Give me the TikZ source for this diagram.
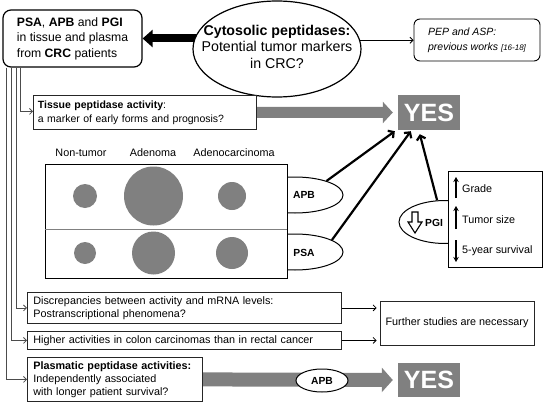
\documentclass[tikz,border=0pt]{standalone}
\usepackage{fontspec}
\setmainfont{Liberation Sans}
\usetikzlibrary{shapes.geometric,arrows.meta}
\pgfdeclarelayer{background}
\pgfsetlayers{background,main}
\definecolor{ygray}{RGB}{128,128,128}
\begin{document}
\begin{tikzpicture}[x=1pt,y=-1pt,
  txt/.style={font=\fontsize{10.8}{13}\selectfont},
  tbox/.style={draw=black!85, line width=0.8pt, fill=white, inner ysep=0pt, align=left, txt},
  thinarr/.style={line width=0.8pt, -{Straight Barb[length=3pt,width=6pt]}},
  leftln/.style={draw=black!70, line width=0.8pt, -{Straight Barb[length=3pt,width=6pt]}},
  yesarr/.style={line width=2.2pt, -{Straight Barb[length=4pt,width=9pt]}},
  yesbox/.style={fill=ygray, text=white, font=\fontsize{25}{25}\selectfont\bfseries, minimum width=62pt, minimum height=35pt, inner sep=0},
  circ/.style={circle, fill=ygray, inner sep=0},
  ell/.style={ellipse, draw, fill=white, line width=1pt, inner sep=0},
  smallbold/.style={font=\fontsize{10.3}{12}\selectfont\bfseries, inner sep=0},
  updown/.style={line width=1.1pt, -{Stealth[length=5pt,width=5.5pt]}}
]
\useasboundingbox (0,0) rectangle (545,404);

% ---------- top row ----------
\node[draw, line width=1.2pt, rounded corners=8pt, fill=white, minimum width=139pt, minimum height=57pt,
      inner sep=0, align=left, font=\fontsize{12.2}{15.5}\selectfont] (tl) at (72.5,38.5)
  {\textbf{PSA}, \textbf{APB} and \textbf{PGI}\\in tissue and plasma\\from \textbf{CRC} patients};
\node[ell, line width=1.2pt, minimum width=168pt, minimum height=96pt] (cyt) at (277,49) {};
\node[align=center, font=\fontsize{14.2}{16.5}\selectfont, inner sep=0] (cytt) at (277,46.5)
  {\textbf{Cytosolic peptidases:}\\Potential tumor markers\\in CRC?};
\node[draw, line width=0.9pt, rounded corners=6pt, minimum width=126pt, minimum height=42pt, inner sep=0,
      align=left, font=\fontsize{10.5}{15}\selectfont\itshape] (pep) at (477,40)
  {PEP and ASP:\\previous works {\fontsize{8}{10}\selectfont[16-18]}};
\draw[thinarr] (cyt.6) -- (cyt.6 -| pep.west);

% ---------- tissue ----------
\node[tbox, anchor=north west, text width=214pt, inner xsep=4.5pt, minimum height=34pt,
      font=\fontsize{10.5}{14}\selectfont] (tis) at (33,95)
  {\textbf{Tissue peptidase activity}:\\a marker of early forms and prognosis?};
\node[yesbox] (yes1) at (429,112.5) {YES};

% ---------- table ----------
\node[ell, minimum width=96pt, minimum height=36pt] (apb) at (295,195) {};
\node[ell, minimum width=96pt, minimum height=36pt] (psa) at (295,252) {};
\node[draw, fill=white, line width=0.9pt, minimum width=242pt, minimum height=114pt, inner sep=0] (tab) at (166,221) {};
\coordinate (mid) at (166,229);
\draw[ygray, line width=0.7pt] (tab.west |- mid) -- (tab.east |- mid);
\node[smallbold] (apbt) at (304,195) {APB};
\node[smallbold] (psat) at (304,253) {PSA};

\node[txt, inner sep=0] (l1) at (81,153) {Non-tumor};
\node[txt, inner sep=0] (l2) at (153,153) {Adenoma};
\node[txt, inner sep=0] (l3) at (234,153) {Adenocarcinoma};

\node[circ, minimum size=24pt] (c11) at (85,196) {};
\node[circ, minimum size=59pt] (c12) at (153.5,196) {};
\node[circ, minimum size=28pt] (c13) at (232,196) {};
\node[circ, minimum size=22pt] (c21) at (85,253) {};
\node[circ, minimum size=43pt] (c22) at (153.5,253) {};
\node[circ, minimum size=32pt] (c23) at (232,253) {};

% ---------- PGI ----------
\node[ell, minimum width=92pt, minimum height=43pt] (pgi) at (445,222) {};
\node[smallbold] (pgit) at (434,222.5) {PGI};
\draw[line width=1.1pt, line join=miter] (412,212) -- (418,212) -- (418,222) -- (422,222) -- (415,233)
  -- (408,222) -- (412,222) -- cycle;
\node[draw, fill=white, line width=0.9pt, minimum width=94pt, minimum height=96pt, inner sep=0] (rb) at (495,219) {};
\node[txt, anchor=west, inner sep=0] (g1) at (462,189) {Grade};
\node[txt, anchor=west, inner sep=0] (g2) at (462,220) {Tumor size};
\node[txt, anchor=west, inner sep=0] (g3) at (462,250.5) {5-year survival};
\draw[updown] (456,198) -- (456,177);
\draw[updown] (456,229) -- (456,206);
\draw[updown] (456,240) -- (456,262);

% arrows to YES
\draw[yesarr] (apb.24) -- ([xshift=-3pt,yshift=-1pt]yes1.south west);
\draw[yesarr] (psa.18) -- ([xshift=13pt,yshift=-1pt]yes1.south west);
\draw[yesarr] (pgi.110) -- ([xshift=22pt,yshift=-4pt]yes1.south west);

% ---------- bottom ----------
\node[tbox, anchor=north west, text width=302pt, inner xsep=6pt, minimum height=31pt] (dis) at (27,292)
  {Discrepancies between activity and mRNA levels:\\Postranscriptional phenomena?};
\node[tbox, anchor=north west, text width=302pt, inner xsep=6pt, minimum height=18pt] (hig) at (27,331)
  {Higher activities in colon carcinomas than in rectal cancer};
\node[tbox, anchor=north west, text width=163pt, inner xsep=6pt, minimum height=44pt] (plas) at (27,357)
  {\textbf{Plasmatic peptidase activities:}\\Independently associated\\with longer patient survival?};
\node[tbox, align=center, minimum width=154pt, minimum height=44pt, inner xsep=0] (fur) at (457,323)
  {Further studies are necessary};
\draw[thinarr] (dis.east) -- ([xshift=-3pt]dis.east -| fur.west);
\draw[thinarr] (hig.east) -- ([xshift=-3pt]hig.east -| fur.west);

\node[ell, minimum width=52pt, minimum height=23pt, smallbold] (apb2) at (322,380.5) {APB};
\node[yesbox, minimum height=34pt] (yes2) at (429,380) {YES};

% ---------- background connectors ----------
\begin{pgfonlayer}{background}
  \draw[line width=8pt, -{Triangle[length=10pt,width=17pt]}] (cyt.center |- tl.east) -- (tl.east);
  \draw[draw=ygray, line width=11pt, -{Triangle[length=10pt,width=21pt]}] (tis.east) -- ([xshift=-5pt]yes1.west);
  \draw[draw=ygray, line width=14pt, -{Triangle[length=11pt,width=24pt]}] (plas.east) -- ([xshift=-5pt]yes2.west);
  \draw[leftln] ([xshift=18pt]tl.south west) |- ([yshift=1pt]tis.west);
  \draw[leftln] ([xshift=13.5pt]tl.south west) |- (dis.west);
  \draw[leftln] ([xshift=9pt]tl.south west) |- (hig.west);
  \draw[leftln] ([xshift=4pt]tl.south west) |- (plas.west);
\end{pgfonlayer}
\end{tikzpicture}
\end{document}
